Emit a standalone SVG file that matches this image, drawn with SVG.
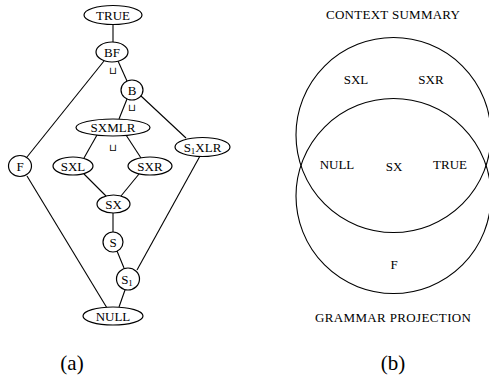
<svg xmlns="http://www.w3.org/2000/svg" width="489" height="377" viewBox="0 0 489 377">
<style>
.n{fill:#fff;stroke:#000;stroke-width:1.2}
.e{stroke:#000;stroke-width:1.1;fill:none}
text{font-family:"Liberation Serif","Times New Roman",serif;font-size:13px;fill:#000;text-anchor:middle}
text.j{font-family:"DejaVu Sans",sans-serif;font-size:10px;fill:#000}
.cap{font-size:21px}
.c{fill:none;stroke:#000;stroke-width:1.1}
</style>
<rect width="489" height="377" fill="#fff"/>
<g id="connectors">
<line class="e" x1="113" y1="24" x2="113" y2="42"/>
<line class="e" x1="104" y1="61" x2="27" y2="157"/>
<line class="e" x1="118" y1="61" x2="127" y2="81"/>
<line class="e" x1="127" y1="99" x2="119" y2="119"/>
<line class="e" x1="141" y1="96" x2="186" y2="138"/>
<line class="e" x1="97" y1="135" x2="84" y2="158"/>
<line class="e" x1="126" y1="135" x2="141" y2="158"/>
<line class="e" x1="84" y1="174" x2="106" y2="196"/>
<line class="e" x1="139" y1="174" x2="121" y2="196"/>
<line class="e" x1="113" y1="213" x2="113" y2="232"/>
<line class="e" x1="117" y1="251" x2="124" y2="268"/>
<line class="e" x1="125" y1="290" x2="119" y2="307"/>
<line class="e" x1="200" y1="156" x2="137" y2="270"/>
<line class="e" x1="27" y1="176" x2="107" y2="308"/>
</g>
<g id="join-labels">
<text class="j" x="113" y="74">⊔</text>
<text class="j" x="132" y="111">⊔</text>
<text class="j" x="113" y="151">⊔</text>
</g>
<g id="TRUE"><ellipse class="n" cx="113" cy="15" rx="29" ry="9.5"/><text x="113" y="19.5">TRUE</text></g>
<g id="BF"><ellipse class="n" cx="112" cy="52" rx="16" ry="10"/><text x="112" y="56.5">BF</text></g>
<g id="B"><ellipse class="n" cx="132" cy="90" rx="11" ry="10"/><text x="132" y="94.5">B</text></g>
<g id="SXMLR"><ellipse class="n" cx="113" cy="127.5" rx="37" ry="8.5"/><text x="113" y="132">SXMLR</text></g>
<g id="S1XLR"><ellipse class="n" cx="202.5" cy="147" rx="27.5" ry="9.5"/><text x="202.5" y="151.5">S<tspan font-size="9" dy="2">1</tspan><tspan dy="-2">XLR</tspan></text></g>
<g id="F"><ellipse class="n" cx="20" cy="166" rx="11.5" ry="10.5"/><text x="20" y="170.5">F</text></g>
<g id="SXL"><ellipse class="n" cx="73" cy="166" rx="20" ry="9"/><text x="73" y="170.5">SXL</text></g>
<g id="SXR"><ellipse class="n" cx="150" cy="166" rx="22" ry="9"/><text x="150" y="170.5">SXR</text></g>
<g id="SX"><ellipse class="n" cx="113.5" cy="204" rx="16.5" ry="9"/><text x="113.5" y="208.5">SX</text></g>
<g id="S"><ellipse class="n" cx="113" cy="242" rx="10" ry="10"/><text x="113" y="246.5">S</text></g>
<g id="S1"><ellipse class="n" cx="128" cy="279" rx="11.5" ry="11"/><text x="127" y="283.5">S<tspan font-size="9" dy="2">1</tspan></text></g>
<g id="NULL"><ellipse class="n" cx="113" cy="316" rx="30" ry="9"/><text x="113" y="320.5">NULL</text></g>
<text class="cap" x="72" y="370">(a)</text>
<g id="venn">
<circle class="c" cx="393.5" cy="135" r="97.5"/>
<circle class="c" cx="393.5" cy="196" r="97.5"/>
<text x="393" y="19" textLength="134" lengthAdjust="spacing">CONTEXT  SUMMARY</text>
<text x="356" y="84">SXL</text>
<text x="431" y="84">SXR</text>
<text x="337" y="169">NULL</text>
<text x="394" y="171">SX</text>
<text x="450" y="169">TRUE</text>
<text x="394" y="269">F</text>
<text x="393" y="322" textLength="156" lengthAdjust="spacing">GRAMMAR  PROJECTION</text>
<text class="cap" x="393" y="370">(b)</text>
</g>
</svg>
